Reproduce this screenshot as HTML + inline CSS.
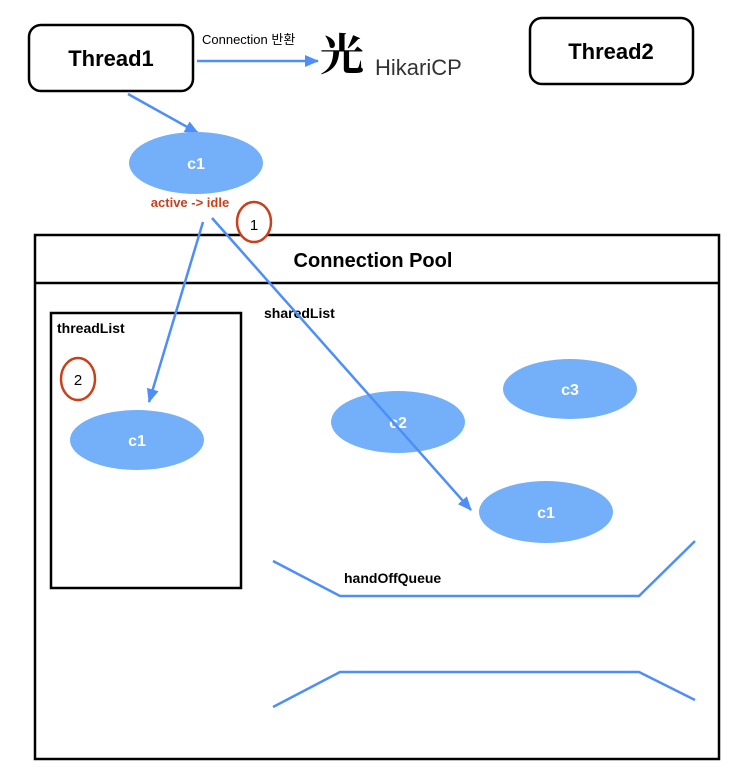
<!DOCTYPE html>
<html><head><meta charset="utf-8"><style>
html,body{margin:0;padding:0;background:#fff;}
svg{display:block;font-family:"Liberation Sans","Noto Sans CJK KR",sans-serif;}
</style></head><body>
<svg width="735" height="776" viewBox="0 0 735 776" xmlns="http://www.w3.org/2000/svg">
<defs>
<marker id="ah" markerWidth="14" markerHeight="12" refX="13" refY="6" orient="auto" markerUnits="userSpaceOnUse" viewBox="0 0 14 12">
<path d="M0,0 L14,6 L0,12 z" fill="#4d8ff7"/></marker>
</defs>
<rect x="29" y="25" width="164" height="66" rx="12" fill="#fff" stroke="#000" stroke-width="2.5"/>
<text x="111" y="66" font-size="22" font-weight="bold" text-anchor="middle">Thread1</text>
<rect x="530" y="18" width="163" height="66" rx="12" fill="#fff" stroke="#000" stroke-width="2.5"/>
<text x="611" y="59" font-size="22" font-weight="bold" text-anchor="middle">Thread2</text>
<text x="202" y="44" font-size="13">Connection 반환</text>
<line x1="197" y1="61" x2="318" y2="61" stroke="#4d8ff7" stroke-width="2.5" marker-end="url(#ah)"/>
<text x="320" y="70" font-size="44" font-family="'Noto Serif CJK SC',serif" font-weight="bold">光</text>
<text x="375" y="75" font-size="22" fill="#333">HikariCP</text>
<line x1="128" y1="94" x2="198" y2="133" stroke="#4d8ff7" stroke-width="2.5" marker-end="url(#ah)"/>
<ellipse cx="196" cy="163" rx="67" ry="31" fill="#74b0fa"/>
<text x="196" y="169" font-size="16" font-weight="bold" fill="#fff" text-anchor="middle">c1</text>
<text x="190" y="207" font-size="13" font-weight="bold" fill="#c8401c" text-anchor="middle">active -&gt; idle</text>
<rect x="35" y="235" width="684" height="524" fill="none" stroke="#000" stroke-width="2.5"/>
<line x1="35" y1="283" x2="719" y2="283" stroke="#000" stroke-width="2.5"/>
<text x="373" y="267" font-size="20" font-weight="bold" text-anchor="middle">Connection Pool</text>
<ellipse cx="254" cy="222" rx="17" ry="20" fill="#fff" stroke="#c8401c" stroke-width="2.5"/>
<text x="254" y="230" font-size="15" text-anchor="middle">1</text>
<rect x="51" y="313" width="190" height="275" fill="none" stroke="#000" stroke-width="2.5"/>
<text x="57" y="333" font-size="14" font-weight="bold">threadList</text>
<ellipse cx="78" cy="379" rx="17" ry="21" fill="none" stroke="#c8401c" stroke-width="2.5"/>
<text x="78" y="385" font-size="15" text-anchor="middle">2</text>
<ellipse cx="137" cy="440" rx="67" ry="30" fill="#74b0fa"/>
<text x="137" y="446" font-size="16" font-weight="bold" fill="#fff" text-anchor="middle">c1</text>
<text x="264" y="318" font-size="14" font-weight="bold">sharedList</text>
<ellipse cx="398" cy="422" rx="67" ry="31" fill="#74b0fa"/>
<text x="398" y="428" font-size="16" font-weight="bold" fill="#fff" text-anchor="middle">c2</text>
<ellipse cx="570" cy="389" rx="67" ry="30" fill="#74b0fa"/>
<text x="570" y="395" font-size="16" font-weight="bold" fill="#fff" text-anchor="middle">c3</text>
<ellipse cx="546" cy="512" rx="67" ry="31" fill="#74b0fa"/>
<text x="546" y="518" font-size="16" font-weight="bold" fill="#fff" text-anchor="middle">c1</text>
<line x1="203" y1="222" x2="149" y2="402" stroke="#4d8ff7" stroke-width="2.5" marker-end="url(#ah)"/>
<line x1="212" y1="218" x2="471" y2="510" stroke="#4d8ff7" stroke-width="2.5" marker-end="url(#ah)"/>
<polyline points="273,561 340,596 639,596 695,541" fill="none" stroke="#4d8ff7" stroke-width="2.5"/>
<polyline points="273,707 340,672 639,672 695,700" fill="none" stroke="#4d8ff7" stroke-width="2.5"/>
<text x="344" y="583" font-size="14" font-weight="bold">handOffQueue</text>
</svg>
</body></html>
